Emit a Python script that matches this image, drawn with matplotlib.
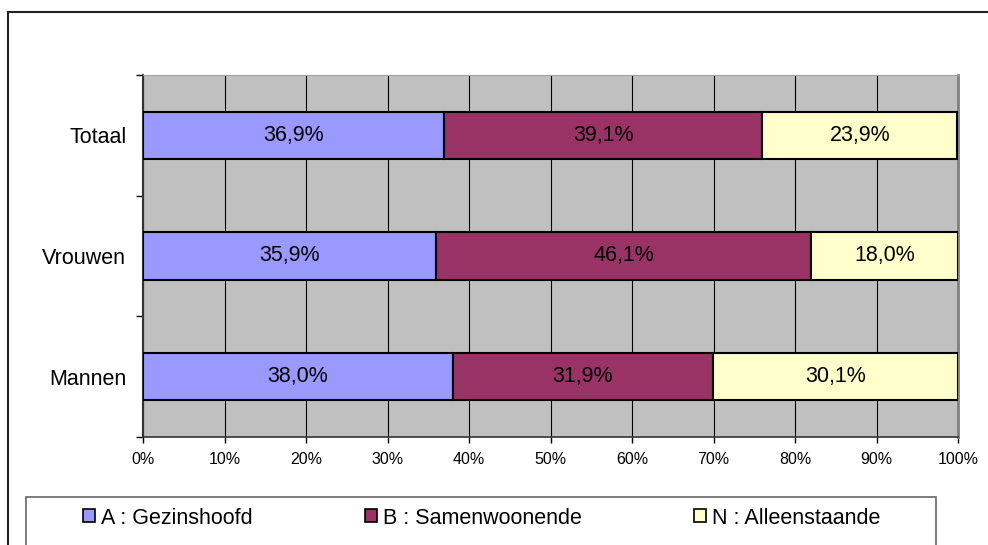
import matplotlib
matplotlib.use("Agg")
import matplotlib.pyplot as plt
from matplotlib.patches import Patch, Rectangle
from matplotlib.lines import Line2D

plt.rcParams["font.family"] = ["Liberation Sans", "DejaVu Sans"]

# data (onder -> boven)
categories = ["Mannen", "Vrouwen", "Totaal"]
gezinshoofd = [38.0, 35.9, 36.9]
samenwonend = [31.9, 46.1, 39.1]
alleenstaand = [30.1, 18.0, 23.9]
series_names = ["A : Gezinshoofd", "B : Samenwoonende", "N : Alleenstaande"]
x_ticks = [0, 10, 20, 30, 40, 50, 60, 70, 80, 90, 100]

COLORS = ["#9999FF", "#993366", "#FFFFCC"]
FS = 15.5

fig = plt.figure(figsize=(9.88, 5.45), dpi=100)
ax = fig.add_axes([143 / 988, 1 - 437 / 545, 815 / 988, 362 / 545])
ax.set_facecolor("#C0C0C0")

ypos = list(range(len(categories)))
left = [0.0] * len(categories)
for vals, color in zip([gezinshoofd, samenwonend, alleenstaand], COLORS):
    ax.barh(ypos, vals, left=left, height=0.39, color=color,
            edgecolor="black", linewidth=1.5, zorder=3)
    for y, l, v in zip(ypos, left, vals):
        ax.text(l + v / 2, y, f"{v:.1f}%".replace(".", ","), ha="center",
                va="center", fontsize=FS, zorder=4)
    left = [a + b for a, b in zip(left, vals)]

ax.set_xlim(0, 100)
ax.set_ylim(-0.5, len(categories) - 0.5)
ax.set_xticks(x_ticks)
ax.set_xticklabels([f"{t}%" for t in x_ticks], fontsize=11.5)
ax.xaxis.grid(True, color="black", linewidth=0.8, zorder=1)
ax.set_axisbelow(True)
ax.tick_params(axis="x", direction="out", length=4, width=1, pad=7)

ax.set_yticks(ypos)
ax.set_yticklabels(categories, fontsize=FS)
ax.tick_params(axis="y", which="major", length=0, pad=12)
ax.set_yticks([y - 0.5 for y in ypos] + [ypos[-1] + 0.5], minor=True)
ax.tick_params(axis="y", which="minor", direction="out", length=5, width=1)

ax.spines["left"].set_color("#333333")
ax.spines["left"].set_linewidth(1.5)
ax.spines["bottom"].set_color("#333333")
ax.spines["bottom"].set_linewidth(1.2)
ax.spines["top"].set_color("#A0A0A0")
ax.spines["right"].set_color("#808080")
ax.spines["right"].set_linewidth(2)

# buitenkader (loopt door voorbij de rand)
fig.add_artist(Line2D([8 / 988, 8 / 988], [-0.1, 1 - 12 / 545],
                      transform=fig.transFigure, color="#222222", linewidth=1.5))
fig.add_artist(Line2D([8 / 988, 1.1], [1 - 12 / 545, 1 - 12 / 545],
                      transform=fig.transFigure, color="#222222", linewidth=1.5))

# legendakader
fig.add_artist(Rectangle((26 / 988, -0.1), 910 / 988, 0.1 + 1 - 497 / 545,
                         transform=fig.transFigure, facecolor="white",
                         edgecolor="#666666", linewidth=1.2))
handles = [Patch(facecolor=c, edgecolor="black", linewidth=1.2) for c in COLORS]
fig.legend(handles, series_names, ncol=3, frameon=False, fontsize=FS,
           loc="center left", bbox_to_anchor=(83 / 988, 1 - 518 / 545),
           borderpad=0, borderaxespad=0, handlelength=0.55, handleheight=0.55,
           handletextpad=0.3, columnspacing=5.2)

fig.savefig("out.png", dpi=100)
